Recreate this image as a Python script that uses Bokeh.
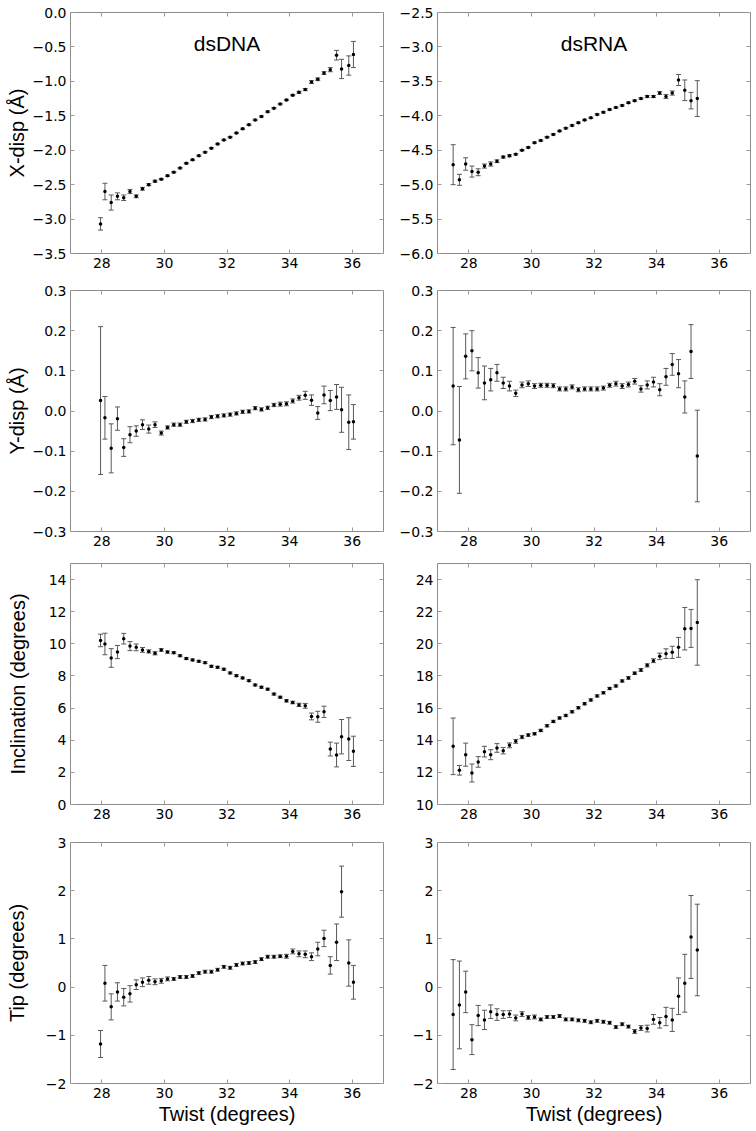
from bokeh.plotting import figure
from bokeh.layouts import column, row
from bokeh.models import (LinearAxis, FixedTicker, Whisker, TeeHead,
                          ColumnDataSource, Label, Range1d)
from bokeh.embed import file_html
from bokeh.resources import INLINE

# ---------------- data ----------------
x_ticks = [28, 30, 32, 34, 36]
x_tick_labels = ["28", "30", "32", "34", "36"]

dna_twist = [27.96, 28.1, 28.3, 28.5, 28.7, 28.9, 29.1, 29.3, 29.5, 29.7,
             29.9, 30.1, 30.3, 30.5, 30.7, 30.9, 31.1, 31.3, 31.5, 31.7,
             31.9, 32.1, 32.3, 32.5, 32.7, 32.9, 33.1, 33.3, 33.5, 33.7,
             33.9, 34.1, 34.3, 34.5, 34.7, 34.9, 35.1, 35.3, 35.5, 35.66,
             35.89, 36.04]
rna_twist = [27.5, 27.7, 27.9, 28.1, 28.3, 28.5, 28.7, 28.9, 29.1, 29.3,
             29.5, 29.7, 29.9, 30.1, 30.3, 30.5, 30.7, 30.9, 31.1, 31.3,
             31.5, 31.7, 31.9, 32.1, 32.3, 32.5, 32.7, 32.9, 33.1, 33.3,
             33.5, 33.7, 33.9, 34.1, 34.3, 34.5, 34.7, 34.9, 35.1, 35.3]

dna_xdisp = [-3.07, -2.60, -2.76, -2.67, -2.69, -2.60, -2.67, -2.56, -2.50, -2.45,
             -2.42, -2.37, -2.32, -2.26, -2.19, -2.14, -2.08, -2.03, -1.97, -1.91,
             -1.85, -1.81, -1.75, -1.69, -1.63, -1.56, -1.51, -1.44, -1.39, -1.33,
             -1.27, -1.20, -1.16, -1.12, -1.01, -0.97, -0.88, -0.83, -0.62, -0.82,
             -0.77, -0.61]
dna_xdisp_err = [0.09, 0.12, 0.11, 0.05, 0.04, 0.03, 0.02, 0.02, 0.015, 0.015,
                 0.01, 0.01, 0.01, 0.01, 0.01, 0.01, 0.01, 0.01, 0.01, 0.01,
                 0.01, 0.01, 0.01, 0.01, 0.01, 0.01, 0.01, 0.01, 0.01, 0.01,
                 0.01, 0.01, 0.015, 0.015, 0.02, 0.02, 0.02, 0.03, 0.07, 0.14,
                 0.14, 0.19]
rna_xdisp = [-4.71, -4.93, -4.70, -4.81, -4.82, -4.73, -4.70, -4.66, -4.60, -4.58,
             -4.56, -4.50, -4.46, -4.39, -4.36, -4.31, -4.27, -4.22, -4.18, -4.14,
             -4.10, -4.06, -4.03, -3.98, -3.95, -3.91, -3.88, -3.85, -3.81, -3.78,
             -3.75, -3.72, -3.72, -3.67, -3.72, -3.67, -3.48, -3.63, -3.78, -3.75]
rna_xdisp_err = [0.29, 0.08, 0.09, 0.08, 0.05, 0.03, 0.03, 0.02, 0.015, 0.015,
                 0.01, 0.01, 0.01, 0.01, 0.01, 0.01, 0.01, 0.01, 0.01, 0.01,
                 0.01, 0.01, 0.01, 0.01, 0.01, 0.01, 0.01, 0.01, 0.01, 0.01,
                 0.01, 0.015, 0.015, 0.02, 0.03, 0.03, 0.08, 0.15, 0.12, 0.26]

dna_ydisp = [0.026, -0.017, -0.093, -0.019, -0.091, -0.059, -0.050, -0.034, -0.045, -0.034,
             -0.055, -0.041, -0.034, -0.034, -0.027, -0.025, -0.022, -0.021, -0.015, -0.013,
             -0.011, -0.009, -0.006, -0.002, -0.001, 0.007, 0.004, 0.008, 0.015, 0.017,
             0.018, 0.025, 0.033, 0.039, 0.027, -0.005, 0.040, 0.026, 0.035, 0.003,
             -0.028, -0.027]
dna_ydisp_err = [0.184, 0.053, 0.061, 0.029, 0.022, 0.020, 0.013, 0.012, 0.010, 0.007,
                 0.005, 0.004, 0.004, 0.004, 0.004, 0.004, 0.004, 0.004, 0.004, 0.004,
                 0.004, 0.004, 0.004, 0.004, 0.004, 0.004, 0.004, 0.004, 0.004, 0.005,
                 0.005, 0.005, 0.006, 0.010, 0.013, 0.016, 0.022, 0.025, 0.031, 0.056,
                 0.068, 0.043]
rna_ydisp = [0.062, -0.072, 0.136, 0.150, 0.095, 0.070, 0.078, 0.095, 0.070, 0.062,
             0.044, 0.065, 0.068, 0.062, 0.064, 0.064, 0.063, 0.055, 0.055, 0.060,
             0.053, 0.055, 0.055, 0.055, 0.057, 0.064, 0.068, 0.062, 0.066, 0.074,
             0.055, 0.065, 0.072, 0.053, 0.085, 0.116, 0.093, 0.035, 0.148, -0.112]
rna_ydisp_err = [0.146, 0.133, 0.056, 0.050, 0.038, 0.042, 0.028, 0.021, 0.014, 0.012,
                 0.008, 0.007, 0.007, 0.006, 0.005, 0.005, 0.005, 0.005, 0.005, 0.005,
                 0.005, 0.005, 0.005, 0.005, 0.005, 0.005, 0.006, 0.006, 0.006, 0.007,
                 0.008, 0.010, 0.012, 0.015, 0.021, 0.027, 0.035, 0.040, 0.067, 0.114]

dna_incl = [10.21, 9.99, 9.12, 9.49, 10.32, 9.86, 9.78, 9.62, 9.53, 9.41,
            9.62, 9.49, 9.45, 9.26, 9.08, 9.00, 8.91, 8.83, 8.60, 8.54,
            8.42, 8.19, 8.02, 7.88, 7.71, 7.44, 7.30, 7.18, 6.87, 6.68,
            6.45, 6.35, 6.20, 6.14, 5.48, 5.46, 5.77, 3.45, 3.08, 4.22,
            4.07, 3.31]
dna_incl_err = [0.39, 0.67, 0.58, 0.41, 0.33, 0.28, 0.21, 0.15, 0.10, 0.10,
                0.08, 0.07, 0.06, 0.06, 0.06, 0.06, 0.06, 0.06, 0.06, 0.06,
                0.06, 0.06, 0.06, 0.06, 0.06, 0.06, 0.06, 0.06, 0.06, 0.06,
                0.07, 0.08, 0.10, 0.15, 0.21, 0.34, 0.35, 0.43, 0.74, 1.07,
                1.33, 0.94]
rna_incl = [13.62, 12.13, 13.10, 11.96, 12.65, 13.29, 13.10, 13.52, 13.35, 13.68,
            13.93, 14.20, 14.32, 14.40, 14.61, 14.90, 15.17, 15.38, 15.54, 15.77,
            16.02, 16.27, 16.51, 16.76, 16.95, 17.22, 17.38, 17.69, 17.88, 18.17,
            18.37, 18.66, 18.95, 19.22, 19.39, 19.47, 19.78, 20.94, 20.96, 21.33]
rna_incl_err = [1.76, 0.30, 0.72, 0.56, 0.33, 0.33, 0.31, 0.27, 0.20, 0.15,
                0.12, 0.10, 0.08, 0.07, 0.07, 0.07, 0.07, 0.07, 0.07, 0.07,
                0.07, 0.07, 0.07, 0.07, 0.07, 0.07, 0.07, 0.07, 0.08, 0.08,
                0.09, 0.10, 0.12, 0.20, 0.30, 0.38, 0.62, 1.32, 1.18, 2.66]

dna_tip = [-1.18, 0.08, -0.41, -0.10, -0.21, -0.14, 0.05, 0.10, 0.14, 0.11,
           0.13, 0.17, 0.17, 0.21, 0.21, 0.23, 0.29, 0.32, 0.32, 0.36,
           0.42, 0.40, 0.46, 0.49, 0.50, 0.52, 0.58, 0.63, 0.63, 0.64,
           0.64, 0.74, 0.69, 0.68, 0.63, 0.79, 1.01, 0.45, 0.93, 1.98,
           0.50, 0.10]
dna_tip_err = [0.28, 0.37, 0.27, 0.19, 0.18, 0.17, 0.10, 0.09, 0.08, 0.06,
               0.05, 0.04, 0.03, 0.03, 0.03, 0.03, 0.03, 0.03, 0.03, 0.03,
               0.03, 0.03, 0.03, 0.03, 0.03, 0.03, 0.03, 0.03, 0.03, 0.03,
               0.04, 0.05, 0.06, 0.07, 0.08, 0.14, 0.17, 0.18, 0.38, 0.53,
               0.48, 0.35]
rna_tip = [-0.57, -0.37, -0.10, -1.09, -0.59, -0.68, -0.51, -0.57, -0.57, -0.56,
           -0.64, -0.56, -0.63, -0.62, -0.67, -0.62, -0.62, -0.60, -0.67, -0.67,
           -0.69, -0.70, -0.73, -0.70, -0.72, -0.74, -0.83, -0.77, -0.82, -0.92,
           -0.85, -0.86, -0.67, -0.74, -0.61, -0.68, -0.19, 0.08, 1.04, 0.77]
rna_tip_err = [1.14, 0.91, 0.43, 0.31, 0.21, 0.20, 0.14, 0.12, 0.08, 0.07,
               0.06, 0.05, 0.04, 0.04, 0.03, 0.03, 0.03, 0.03, 0.03, 0.03,
               0.03, 0.03, 0.03, 0.03, 0.03, 0.03, 0.03, 0.03, 0.03, 0.04,
               0.05, 0.07, 0.10, 0.11, 0.19, 0.24, 0.38, 0.60, 0.86, 0.95]

xdisp_dna_ticks = [0.0, -0.5, -1.0, -1.5, -2.0, -2.5, -3.0, -3.5]
xdisp_dna_labels = ["0.0", "\u22120.5", "\u22121.0", "\u22121.5", "\u22122.0", "\u22122.5", "\u22123.0", "\u22123.5"]
xdisp_rna_ticks = [-2.5, -3.0, -3.5, -4.0, -4.5, -5.0, -5.5, -6.0]
xdisp_rna_labels = ["\u22122.5", "\u22123.0", "\u22123.5", "\u22124.0", "\u22124.5", "\u22125.0", "\u22125.5", "\u22126.0"]
ydisp_ticks = [0.3, 0.2, 0.1, 0.0, -0.1, -0.2, -0.3]
ydisp_labels = ["0.3", "0.2", "0.1", "0.0", "\u22120.1", "\u22120.2", "\u22120.3"]
incl_dna_ticks = [0, 2, 4, 6, 8, 10, 12, 14]
incl_dna_labels = ["0", "2", "4", "6", "8", "10", "12", "14"]
incl_rna_ticks = [10, 12, 14, 16, 18, 20, 22, 24]
incl_rna_labels = ["10", "12", "14", "16", "18", "20", "22", "24"]
tip_ticks = [-2, -1, 0, 1, 2, 3]
tip_labels = ["\u22122", "\u22121", "0", "1", "2", "3"]

# ---------------- style ----------------
FRAME_COL = "#8c8c8c"
TICK_COL = "#9a9a9a"
ERR_COL = "#5a5a5a"
TICK_FONT = "DejaVu Sans"
LABEL_FONT = "Liberation Sans"


def make_panel(x, y, err, yrange, yticks, ylabels, left, bt, bb,
               ylabel=None, ylabel_standoff=0, xlabel=None,
               title=None, title_y=None):
    p = figure(frame_width=313, frame_height=241,
               x_range=Range1d(27, 37), y_range=Range1d(*yrange),
               output_backend="svg", toolbar_location=None, tools="",
               min_border_left=70 if left else 46,
               min_border_right=8 if left else 4,
               min_border_top=bt, min_border_bottom=bb,
               background_fill_color="white", border_fill_color="white",
               outline_line_color=FRAME_COL, outline_line_width=1)
    p.grid.visible = False

    for ax, ticks, labs in ((p.xaxis[0], x_ticks, x_tick_labels),
                            (p.yaxis[0], yticks, ylabels)):
        ax.ticker = FixedTicker(ticks=ticks)
        ax.major_label_overrides = {t: l for t, l in zip(ticks, labs)}
        ax.major_label_text_font = TICK_FONT
        ax.major_label_text_font_size = "14px"
        ax.major_label_text_color = "black"
        ax.major_tick_in = 4
        ax.major_tick_out = 0
        ax.major_tick_line_color = TICK_COL
        ax.minor_tick_line_color = None
        ax.axis_line_color = None
        ax.major_label_standoff = 4
        ax.axis_label_standoff = 0
        ax.axis_label_text_font = LABEL_FONT
        ax.axis_label_text_font_size = "20px"
        ax.axis_label_text_font_style = "normal"
        ax.axis_label_text_color = "black"

    if ylabel:
        p.yaxis[0].axis_label = ylabel
        p.yaxis[0].axis_label_standoff = ylabel_standoff
    if xlabel:
        p.xaxis[0].axis_label = xlabel
        p.xaxis[0].axis_label_standoff = 2

    # tick marks only (no labels) on the top and right sides of the frame
    for loc, ticks in (("above", x_ticks), ("right", yticks)):
        extra = LinearAxis(ticker=FixedTicker(ticks=ticks),
                           major_label_text_color=None,
                           major_label_standoff=0,
                           major_tick_in=4, major_tick_out=0,
                           major_tick_line_color=TICK_COL,
                           minor_tick_line_color=None,
                           axis_line_color=None)
        p.add_layout(extra, loc)

    src = ColumnDataSource(dict(
        x=x, y=y,
        lo=[a - b for a, b in zip(y, err)],
        hi=[a + b for a, b in zip(y, err)]))
    p.add_layout(Whisker(source=src, base="x", lower="lo", upper="hi",
                         dimension="height", line_color=ERR_COL, line_width=1,
                         lower_head=TeeHead(size=5, line_color=ERR_COL, line_width=1),
                         upper_head=TeeHead(size=5, line_color=ERR_COL, line_width=1)))
    p.scatter("x", "y", source=src, size=3.5, fill_color="black",
              line_color=None, marker="circle")

    if title:
        p.add_layout(Label(x=32, y=title_y, text=title, text_align="center",
                           text_baseline="middle", text_font=LABEL_FONT,
                           text_font_size="21px", text_color="black"))
    return p


p1 = make_panel(dna_twist, dna_xdisp, dna_xdisp_err, (-3.5, 0.0),
                xdisp_dna_ticks, xdisp_dna_labels, True, 12, 24,
                ylabel="X-disp (\u00c5)", ylabel_standoff=2,
                title="dsDNA", title_y=-0.45)
p2 = make_panel(rna_twist, rna_xdisp, rna_xdisp_err, (-6.0, -2.5),
                xdisp_rna_ticks, xdisp_rna_labels, False, 12, 24,
                title="dsRNA", title_y=-2.95)
p3 = make_panel(dna_twist, dna_ydisp, dna_ydisp_err, (-0.3, 0.3),
                ydisp_ticks, ydisp_labels, True, 13, 24,
                ylabel="Y-disp (\u00c5)", ylabel_standoff=2)
p4 = make_panel(rna_twist, rna_ydisp, rna_ydisp_err, (-0.3, 0.3),
                ydisp_ticks, ydisp_labels, False, 13, 24)
p5 = make_panel(dna_twist, dna_incl, dna_incl_err, (0, 15),
                incl_dna_ticks, incl_dna_labels, True, 8, 24,
                ylabel="Inclination (degrees)", ylabel_standoff=17)
p6 = make_panel(rna_twist, rna_incl, rna_incl_err, (10, 25),
                incl_rna_ticks, incl_rna_labels, False, 8, 24)
p7 = make_panel(dna_twist, dna_tip, dna_tip_err, (-2, 3),
                tip_ticks, tip_labels, True, 14, 46,
                ylabel="Tip (degrees)", ylabel_standoff=15,
                xlabel="Twist (degrees)")
p8 = make_panel(rna_twist, rna_tip, rna_tip_err, (-2, 3),
                tip_ticks, tip_labels, False, 14, 46,
                xlabel="Twist (degrees)")

layout = column(row(p1, p2), row(p3, p4), row(p5, p6), row(p7, p8))

open("out.html", "w").write(file_html(layout, INLINE))
